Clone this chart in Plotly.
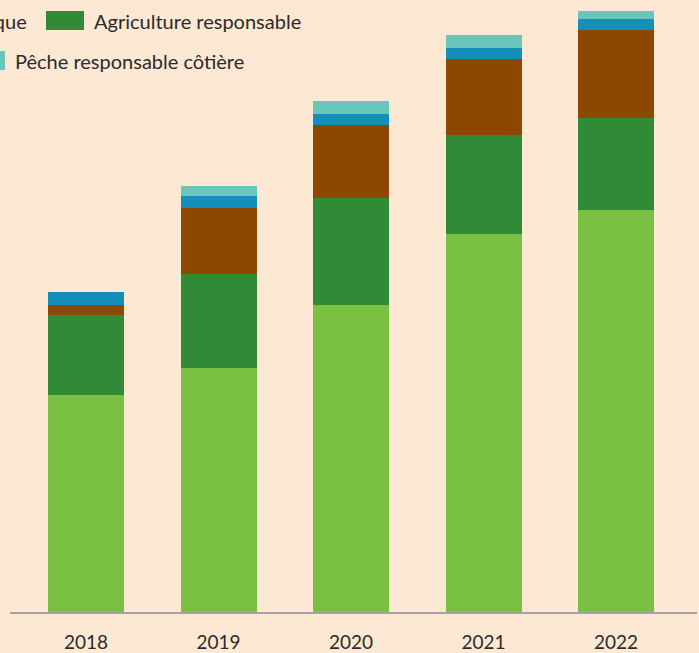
import plotly.graph_objects as go

years = ["2018", "2019", "2020", "2021", "2022"]
agri_bio = [217, 244, 307, 378, 402]
agri_resp = [80, 94, 107, 99, 92]
elevage = [10, 66, 73, 76, 88]
peche_large = [13, 12, 11, 11, 11]
peche_cotiere = [0, 10, 13, 13, 8]

names = ["Agriculture biologique", "Agriculture responsable", "Élevage responsable",
         "Pêche responsable", "Pêche responsable côtière"]
series = [agri_bio, agri_resp, elevage, peche_large, peche_cotiere]
colors = ["#7ac143", "#318a35", "#8c4700", "#138fba", "#69c6ba"]

BG = "#fde8d3"
W, H = 699, 653
L, R, T, B = 10, 2, 0, 41
pw, ph = W - L - R, H - T - B

def px(x):
    return (x - L) / pw

def py(y):
    return 1 - (y - T) / ph

fig = go.Figure()
for n, s, c in zip(names, series, colors):
    fig.add_trace(go.Bar(x=years, y=s, name=n, marker=dict(color=c, line=dict(width=0)),
                         showlegend=False))

font = dict(family="Lato, 'Open Sans', sans-serif", size=20, color="#2b2b2b")

fig.update_layout(
    width=W, height=H,
    barmode="stack", bargap=0.426,
    paper_bgcolor=BG, plot_bgcolor=BG,
    margin=dict(l=L, r=R, t=T, b=B, autoexpand=False),
    xaxis=dict(type="category", range=[-0.574, 4.611], showgrid=False,
               showline=True, linecolor="#a3a3a3", linewidth=2,
               ticks="", ticklabelstandoff=12,
               tickfont=dict(family="Lato, 'Open Sans', sans-serif", size=19, color="#2b2b2b")),
    yaxis=dict(range=[0, 612], visible=False, showgrid=False),
    font=font,
)

# legend (partially cropped, as in the reference)
shapes = [
    dict(type="rect", xref="paper", yref="paper", x0=px(46), x1=px(84), y0=py(30), y1=py(11),
         fillcolor=colors[1], line=dict(width=0)),
    dict(type="rect", xref="paper", yref="paper", x0=px(-33), x1=px(5), y0=py(70), y1=py(51),
         fillcolor=colors[4], line=dict(width=0)),
]
annots = [
    dict(text=names[0], x=px(29), y=py(21), xref="paper", yref="paper",
         xanchor="right", yanchor="middle", showarrow=False, font=font),
    dict(text=names[1], x=px(92), y=py(21), xref="paper", yref="paper",
         xanchor="left", yanchor="middle", showarrow=False, font=font),
    dict(text=names[4], x=px(13), y=py(61), xref="paper", yref="paper",
         xanchor="left", yanchor="middle", showarrow=False, font=font),
]
fig.update_layout(shapes=shapes, annotations=annots)

fig.write_html("out.html", config={"displayModeBar": False},
               post_script="document.body.style.margin='0';document.body.style.background='%s';" % BG)
